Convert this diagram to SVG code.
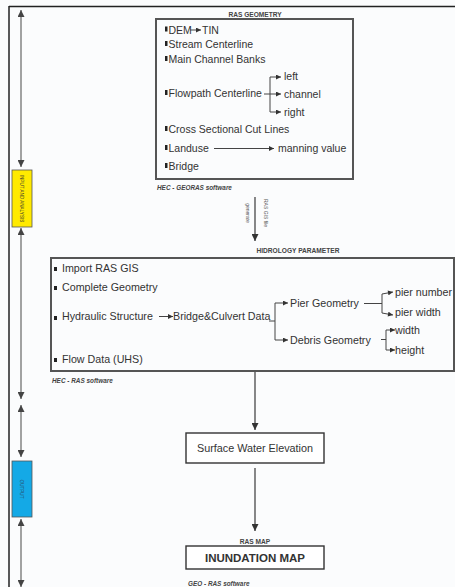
<svg xmlns="http://www.w3.org/2000/svg" width="455" height="587" viewBox="0 0 455 587">
<style>
text{font-family:"Liberation Sans",Arial,sans-serif;fill:#333}
.t{font-size:10.5px}
.m{font-size:10.7px}
.h{font-size:6.6px;font-weight:bold;fill:#444}
.s{font-size:6.4px;font-weight:bold;font-style:italic;fill:#444}
.box{fill:none;stroke:#555;stroke-width:2}
.box2{fill:#fff;stroke:#333;stroke-width:1.4}
.ln{fill:none;stroke:#444;stroke-width:1}
.ar{fill:none;stroke:#444;stroke-width:1;marker-end:url(#ah)}
.side{fill:none;stroke:#666;stroke-width:1.2;marker-start:url(#sh);marker-end:url(#sh)}
.big{fill:none;stroke:#555;stroke-width:1.4;marker-end:url(#bh)}
.b{fill:#222}
</style>
<defs>
<marker id="ah" viewBox="0 0 10 10" refX="10" refY="5" markerWidth="6" markerHeight="5" markerUnits="userSpaceOnUse" orient="auto"><path d="M0,0L10,5L0,10z" fill="#333"/></marker>
<marker id="sh" viewBox="0 0 10 10" refX="10" refY="5" markerWidth="7" markerHeight="7" markerUnits="userSpaceOnUse" orient="auto-start-reverse"><path d="M0,0L10,5L0,10z" fill="#444"/></marker>
<marker id="bh" viewBox="0 0 10 10" refX="10" refY="5" markerWidth="7" markerHeight="7" markerUnits="userSpaceOnUse" orient="auto"><path d="M0,0L10,5L0,10z" fill="#333"/></marker>
</defs>
<rect width="455" height="587" fill="#fbfcfd"/>
<g id="frame">
<line x1="9" y1="6.5" x2="455" y2="6.5" stroke="#222" stroke-width="1.5"/>
<line x1="9" y1="6" x2="9" y2="587" stroke="#222" stroke-width="1.5"/>
</g>
<g id="connectors">
<line class="side" x1="21" y1="10" x2="21" y2="167"/>
<line class="side" x1="21" y1="228" x2="21" y2="399"/>
<line class="side" x1="21" y1="405" x2="21" y2="457"/>
<line class="side" x1="21" y1="519" x2="21" y2="587"/>
<line class="big" x1="255" y1="197" x2="255" y2="241"/>
<line class="big" x1="255" y1="372" x2="255" y2="430"/>
<line class="big" x1="255" y1="468" x2="255" y2="531"/>
</g>
<g id="input-analysis">
<rect x="12" y="170" width="20" height="57" fill="#ffea00" stroke="#555" stroke-width="0.8"/>
<text transform="translate(20,198.5) rotate(90)" text-anchor="middle" style="font-size:4.6px;fill:#333">INPUT AND ANALYSIS</text>
</g>
<g id="output">
<rect x="12" y="461" width="20" height="56" fill="#14a9e6" stroke="#555" stroke-width="0.8"/>
<text transform="translate(20,489) rotate(90)" text-anchor="middle" style="font-size:4.6px;fill:#2a4a6a">OUTPUT</text>
</g>
<g id="ras-geometry">
<text class="h" x="255" y="16.5" text-anchor="middle">RAS GEOMETRY</text>
<rect class="box" x="156" y="19" width="197" height="160"/>
<rect class="b" x="165" y="26.5" width="2.5" height="5"/>
<text class="t" x="168.5" y="34">DEM</text>
<line class="ar" x1="190" y1="30" x2="201" y2="30"/>
<text class="t" x="202" y="34">TIN</text>
<rect class="b" x="165" y="41" width="2.5" height="5"/>
<text class="t" x="168.5" y="48">Stream Centerline</text>
<rect class="b" x="165" y="56" width="2.5" height="5"/>
<text class="t" x="168.5" y="63">Main Channel Banks</text>
<rect class="b" x="165" y="90" width="2.5" height="5"/>
<text class="t" x="168.5" y="97">Flowpath Centerline</text>
<line class="ln" x1="270" y1="77" x2="270" y2="112"/>
<line class="ar" x1="270" y1="77" x2="281" y2="77"/>
<line class="ar" x1="264" y1="94" x2="281" y2="94"/>
<line class="ar" x1="270" y1="112" x2="281" y2="112"/>
<text class="t" x="284" y="80">left</text>
<text class="t" x="284" y="97.5">channel</text>
<text class="t" x="284" y="115.5">right</text>
<rect class="b" x="165" y="126" width="2.5" height="5"/>
<text class="t" x="168.5" y="133">Cross Sectional Cut Lines</text>
<rect class="b" x="165" y="145" width="2.5" height="5"/>
<text class="t" x="168.5" y="152">Landuse</text>
<line class="ar" x1="214" y1="148.5" x2="274" y2="148.5"/>
<text class="t" x="278" y="152">manning value</text>
<rect class="b" x="165" y="163" width="2.5" height="5"/>
<text class="t" x="168.5" y="170">Bridge</text>
<text class="s" x="157" y="190">HEC - GEORAS software</text>
</g>
<g id="generate-label">
<text transform="translate(246,213) rotate(90)" text-anchor="middle" style="font-size:5px;fill:#555">generate</text>
<text transform="translate(264,213) rotate(90)" text-anchor="middle" style="font-size:5px;fill:#555">RAS GIS file</text>
</g>
<g id="hidrology-parameter">
<text class="h" x="256.5" y="253">HIDROLOGY PARAMETER</text>
<rect class="box" x="51" y="258" width="403" height="113"/>
<rect class="b" x="54" y="267" width="3" height="4"/>
<text class="m" x="62" y="272">Import RAS GIS</text>
<rect class="b" x="54" y="286" width="3" height="4"/>
<text class="m" x="62" y="291">Complete Geometry</text>
<rect class="b" x="54" y="316" width="3" height="4"/>
<text class="m" x="62" y="320">Hydraulic Structure</text>
<line class="ar" x1="159" y1="316.5" x2="173" y2="316.5"/>
<text class="m" x="173" y="320">Bridge&amp;Culvert Data</text>
<line class="ln" x1="269" y1="321" x2="275" y2="321"/>
<line class="ln" x1="275" y1="303" x2="275" y2="340"/>
<line class="ar" x1="275" y1="303" x2="288" y2="303"/>
<line class="ar" x1="275" y1="340" x2="288" y2="340"/>
<text class="m" x="290" y="307">Pier Geometry</text>
<text class="m" x="290" y="343.5">Debris Geometry</text>
<line class="ln" x1="364" y1="303.5" x2="382" y2="303.5"/>
<line class="ln" x1="382" y1="294" x2="382" y2="313"/>
<line class="ar" x1="382" y1="294" x2="393" y2="292"/>
<line class="ar" x1="382" y1="313" x2="393" y2="315"/>
<text class="m" x="395" y="295.5">pier number</text>
<text class="m" x="395" y="316">pier width</text>
<line class="ln" x1="381" y1="339.5" x2="386" y2="339.5"/>
<line class="ln" x1="386" y1="330" x2="386" y2="350"/>
<line class="ar" x1="386" y1="330" x2="395" y2="330"/>
<line class="ar" x1="386" y1="350" x2="395" y2="350"/>
<text class="m" x="395" y="333.5">width</text>
<text class="m" x="395" y="354">height</text>
<rect class="b" x="54" y="358" width="3" height="4"/>
<text class="m" x="62" y="363">Flow Data (UHS)</text>
<text class="s" x="52" y="383">HEC - RAS software</text>
</g>
<g id="surface-water-elevation">
<rect class="box2" x="186" y="433" width="138" height="30"/>
<text x="255" y="452" text-anchor="middle" style="font-size:10.8px">Surface Water Elevation</text>
</g>
<g id="inundation-map">
<text class="h" x="255" y="543.5" text-anchor="middle">RAS MAP</text>
<rect class="box2" x="186" y="546" width="138" height="23"/>
<text x="255" y="561.5" text-anchor="middle" style="font-size:11.5px;font-weight:bold">INUNDATION MAP</text>
<text class="s" x="188" y="586">GEO - RAS software</text>
</g>
</svg>
